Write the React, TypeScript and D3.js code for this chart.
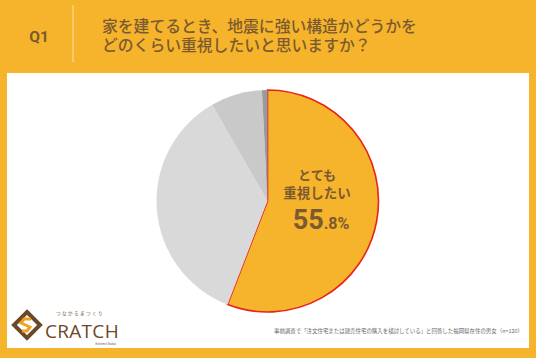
import React from "react";
import * as d3 from "d3";

const categories = ["とても重視したい", "ある程度重視したい", "あまり重視しない", "まったく重視しない"];
const values = [55.8, 35.8, 7.5, 0.8];
const colors = ["#F6B42C", "#D9D9D9", "#C9C9C9", "#9A9A9A"];
const titleLines = ["家を建てるとき、地震に強い構造かどうかを", "どのくらい重視したいと思いますか？"];
const note = "事前調査で「注文住宅または建売住宅の購入を検討している」と回答した福岡県在住の男女（n=120）";

export default function App() {
  const W = 536, H = 358;
  const cx = 267.5, cy = 201, R = 111;
  const pie = d3.pie<number>().sort(null).value((d) => d)(values);
  const arc = d3.arc<d3.PieArcDatum<number>>().innerRadius(0).outerRadius(R);
  const brown = "#7B5A30";
  const font = "'Noto Sans CJK JP', 'Noto Sans', sans-serif";
  return (
    <svg width={W} height={H} style={{ position: "absolute", left: 0, top: 0 }} fontFamily={font}>
      <rect x={0} y={0} width={W} height={H} fill="#F6B42C" />
      <rect x={7} y={73} width={522} height={275} fill="#FFFFFF" />
      <text x={39} y={42} textAnchor="middle" fontSize={15.5} fontWeight={700} fill={brown} fontFamily="Roboto, 'Noto Sans', sans-serif">Q1</text>
      <line x1={73} x2={73} y1={5} y2={62} stroke="#F9D27C" strokeWidth={1.5} />
      {titleLines.map((t, i) => (
        <text key={i} x={102} y={32 + i * 19} fontSize={15.8} fill={brown} fontWeight={500}>{t}</text>
      ))}
      <g transform={`translate(${cx},${cy})`}>
        {pie.map((p, i) => (
          <path key={i} d={arc(p) || ""} fill={colors[i]} stroke={i === 0 ? "#E8231A" : "none"} strokeWidth={i === 0 ? 1.6 : 0} />
        ))}
      </g>
      <text x={317} y={180} textAnchor="middle" fontSize={13} fontWeight={700} fill={brown}>とても</text>
      <text x={317} y={198} textAnchor="middle" fontSize={13.5} fontWeight={700} fill={brown}>重視したい</text>
      <text x={321} y={229} textAnchor="middle" fill={brown} fontWeight={700} fontFamily="Roboto, 'Noto Sans', sans-serif">
        <tspan fontSize={27}>55</tspan><tspan fontSize={16}>.8%</tspan>
      </text>
      <text x={523} y={333} textAnchor="end" fontSize={5.45} fill="#666">{note}</text>
      {/* logo */}
      <g transform="translate(27,325)">
        <path d="M0,-13 L13,0 L0,13 L-13,0 Z" fill="none" stroke="#6B4828" strokeWidth={4} strokeLinejoin="miter" />
        <path d="M4,-6 L-3,-6 L-6,-2 L3,2 L0,6 L-5,6" fill="none" stroke="#F0A020" strokeWidth={3} />
      </g>
      <text x={45} y={338} fontSize={19} fontWeight={500} fill="#6B4828" fontFamily="'Open Sans', 'Noto Sans', sans-serif" letterSpacing={0.3}>CRATCH</text>
      <text x={80} y={315} textAnchor="middle" fontSize={4.5} fill="#6B4828" letterSpacing={1.5}>つなかるまつくり</text>
      <text x={116} y={345} textAnchor="end" fontSize={2.8} fill="#6B4828">Architect Studio</text>
    </svg>
  );
}
